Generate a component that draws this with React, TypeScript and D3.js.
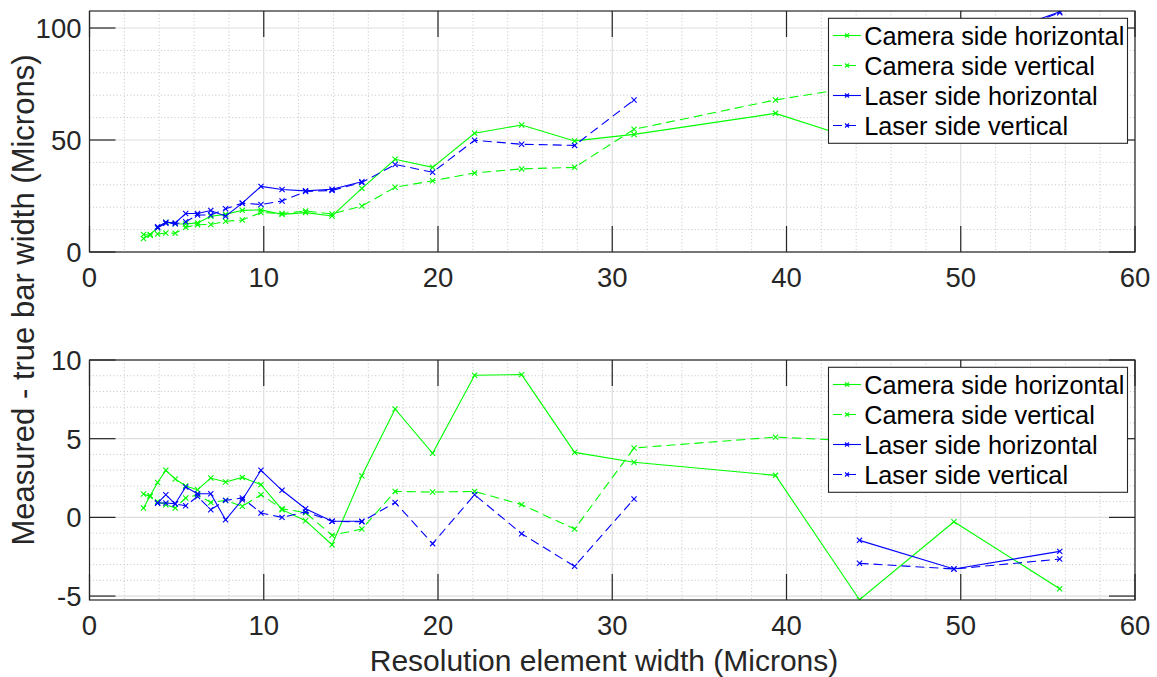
import React from 'react';
import * as d3 from 'd3';

// Resolution element width (microns) — USAF target elements
const resolutionWidth = [3.10, 3.48, 3.91, 4.38, 4.92, 5.52, 6.20, 6.96, 7.81, 8.77, 9.84, 11.05, 12.40, 13.92, 15.63, 17.54, 19.69, 22.10, 24.80, 27.84, 31.25, 39.37, 44.19, 49.61, 55.68];

// Top panel: measured bar width (microns)
const cameraHorizMeasured = [6.0, 7.8, 10.8, 13.2, 12.6, 12.5, 13.0, 16.0, 16.8, 18.6, 18.8, 16.8, 17.6, 16.1, 28.4, 41.4, 37.8, 53.0, 56.7, 49.6, 52.5, 61.9, 49.8, 69.3, 67.6];
const cameraVertMeasured = [7.8, 7.5, 8.0, 8.5, 8.4, 11.0, 12.2, 12.3, 13.7, 14.3, 17.6, 17.2, 18.3, 17.0, 20.5, 28.9, 31.8, 35.3, 37.1, 37.8, 54.8, 67.9, 73.9, null, null];
const laserHorizMeasured = [null, null, 11.3, 13.3, 13.0, 17.2, 17.2, 18.5, 16.0, 21.8, 29.3, 27.9, 27.3, 28.0, 31.4, null, null, null, null, null, null, null, 86, 90, 107.3];
const laserVertMeasured = [null, null, 10.8, 12.8, 12.6, 13.5, 16.5, 16.5, 19.3, 21.8, 21.2, 22.8, 27.0, 27.5, 31.0, 39.1, 35.6, 49.9, 48.1, 47.6, 67.9, null, 80, 90, 106.8];

// Bottom panel: measured - true bar width
const cameraHorizError = [0.59, 1.38, 2.22, 2.99, 2.44, 2.0, 1.76, 2.5, 2.25, 2.54, 2.08, 0.49, -0.21, -1.74, 2.65, 6.89, 4.07, 9.03, 9.07, 4.13, 3.5, 2.67, -5.23, -0.28, -4.53];
const cameraVertError = [1.48, 1.33, 1.0, 0.8, 0.6, 1.23, 1.44, 0.95, 1.08, 0.7, 1.44, 0.55, 0.3, -1.14, -0.74, 1.65, 1.61, 1.65, 0.81, -0.74, 4.41, 5.1, 4.85, null, null];
const laserHorizError = [null, null, 0.91, 0.91, 0.87, 1.93, 1.5, 1.5, -0.15, 1.12, 2.99, 1.72, 0.55, -0.25, -0.25, null, null, null, null, null, null, null, -1.46, -3.28, -2.16];
const laserVertError = [null, null, 0.91, 1.44, 0.85, 0.74, 1.33, 0.49, 1.08, 1.23, 0.28, 0.0, 0.35, -0.25, -0.28, 0.95, -1.67, 1.44, -1.04, -3.11, 1.17, null, -2.92, -3.28, -2.65];

const seriesNames = ['Camera side horizontal', 'Camera side vertical', 'Laser side horizontal', 'Laser side vertical'];
const seriesColors = ['#00ff00', '#00ff00', '#0000ff', '#0000ff'];
const seriesDashed = [false, true, false, true];

const xTicks = [0, 10, 20, 30, 40, 50, 60];
const topYTicks = [0, 50, 100];
const bottomYTicks = [-5, 0, 5, 10];

const W = 1157;
const H = 677;
const FONT = '"Liberation Sans", Arial, Helvetica, sans-serif';
const AX = '#262626';

type PanelProps = {
  id: string;
  top: number;
  bottom: number;
  yDomain: [number, number];
  yTicks: number[];
  yMinorStep: number;
  data: (number | null)[][];
};

const left = 89.5;
const right = 1135;
const xScale = d3.scaleLinear().domain([0, 60]).range([left, right]);

function marker(x: number, y: number, s = 2.6) {
  return `M${x - s},${y - s}L${x + s},${y + s}M${x - s},${y + s}L${x + s},${y - s}`;
}

function Panel({ id, top, bottom, yDomain, yTicks, yMinorStep, data }: PanelProps) {
  const yScale = d3.scaleLinear().domain(yDomain).range([bottom, top]);
  const xMinor = d3.range(0, 60.001, 2).filter((v) => Math.abs(v % 10) > 1e-6);
  const yMinor = d3
    .range(Math.ceil(yDomain[0] / yMinorStep) * yMinorStep, yDomain[1] + 1e-6, yMinorStep)
    .filter((v) => !yTicks.some((t) => Math.abs(t - v) < 1e-6));
  const tickLen = 26;
  const lineGen = d3
    .line<[number, number | null]>()
    .defined((d) => d[1] !== null)
    .x((d) => xScale(d[0]))
    .y((d) => yScale(d[1] as number));

  const legendX = right - 7.5 - 299;
  const legendY = top + 7.3;

  return (
    <g>
      <defs>
        <clipPath id={`clip-${id}`}>
          <rect x={left} y={top} width={right - left} height={bottom - top} />
        </clipPath>
      </defs>
      <rect x={left} y={top} width={right - left} height={bottom - top} fill="#fff" />
      {/* minor grid */}
      {xMinor.map((v) => (
        <line key={`xm${v}`} x1={xScale(v)} x2={xScale(v)} y1={top} y2={bottom} stroke="#c4c4c4" strokeWidth={1} strokeDasharray="1,2.4" />
      ))}
      {yMinor.map((v) => (
        <line key={`ym${v}`} x1={left} x2={right} y1={yScale(v)} y2={yScale(v)} stroke="#c4c4c4" strokeWidth={1} strokeDasharray="1,2.4" />
      ))}
      {/* major grid */}
      {xTicks.map((v) => (
        <line key={`xg${v}`} x1={xScale(v)} x2={xScale(v)} y1={top} y2={bottom} stroke="#dedede" strokeWidth={1.2} />
      ))}
      {yTicks.map((v) => (
        <line key={`yg${v}`} x1={left} x2={right} y1={yScale(v)} y2={yScale(v)} stroke="#dedede" strokeWidth={1.2} />
      ))}
      {/* data */}
      <g clipPath={`url(#clip-${id})`}>
        {data.map((vals, si) => {
          const pts: [number, number | null][] = resolutionWidth.map((x, i) => [x, vals[i]]);
          return (
            <g key={si}>
              <path
                d={lineGen(pts) || ''}
                fill="none"
                stroke={seriesColors[si]}
                strokeWidth={1.1}
                strokeDasharray={seriesDashed[si] ? '9,5' : undefined}
              />
              {pts
                .filter((p) => p[1] !== null)
                .map((p, k) => (
                  <path key={k} d={marker(xScale(p[0]), yScale(p[1] as number))} stroke={seriesColors[si]} strokeWidth={1.1} fill="none" />
                ))}
            </g>
          );
        })}
      </g>
      {/* ticks */}
      {xTicks.map((v) => (
        <g key={`xt${v}`}>
          <line x1={xScale(v)} x2={xScale(v)} y1={bottom} y2={bottom - tickLen} stroke={AX} strokeWidth={1.2} />
          <line x1={xScale(v)} x2={xScale(v)} y1={top} y2={top + tickLen} stroke={AX} strokeWidth={1.2} />
          <text x={xScale(v)} y={bottom + 35} textAnchor="middle" fontFamily={FONT} fontSize={27.5} fill={AX}>
            {v}
          </text>
        </g>
      ))}
      {yTicks.map((v) => (
        <g key={`yt${v}`}>
          <line x1={left} x2={left + tickLen} y1={yScale(v)} y2={yScale(v)} stroke={AX} strokeWidth={1.2} />
          <line x1={right} x2={right - tickLen} y1={yScale(v)} y2={yScale(v)} stroke={AX} strokeWidth={1.2} />
          <text x={81.5} y={yScale(v) + 9.9} textAnchor="end" fontFamily={FONT} fontSize={27.5} fill={AX}>
            {v}
          </text>
        </g>
      ))}
      {/* box */}
      <rect x={left} y={top} width={right - left} height={bottom - top} fill="none" stroke={AX} strokeWidth={1.2} />
      {/* legend */}
      <g>
        <rect x={legendX} y={legendY} width={299} height={125} fill="#fff" stroke={AX} strokeWidth={1.1} />
        {seriesNames.map((name, i) => {
          const base = legendY + 26.7 + i * 30;
          const ly = base - 9.5;
          return (
            <g key={name}>
              <line
                x1={legendX + 4.5}
                x2={legendX + 32.5}
                y1={ly}
                y2={ly}
                stroke={seriesColors[i]}
                strokeWidth={1.1}
                strokeDasharray={seriesDashed[i] ? '9,5' : undefined}
              />
              <path d={marker(legendX + 18.5, ly, 2)} stroke={seriesColors[i]} strokeWidth={1.1} fill="none" />
              <text x={legendX + 35.7} y={base} fontFamily={FONT} fontSize={25.3} fill="#000">
                {name}
              </text>
            </g>
          );
        })}
      </g>
    </g>
  );
}

export default function App() {
  return (
    <svg width={W} height={H} viewBox={`0 0 ${W} ${H}`} style={{ position: 'absolute', left: 0, top: 0, background: '#fff' }}>
      <rect x={0} y={0} width={W} height={H} fill="#fff" />
      <Panel
        id="top"
        top={11}
        bottom={252}
        yDomain={[0, 107.6]}
        yTicks={topYTicks}
        yMinorStep={10}
        data={[cameraHorizMeasured, cameraVertMeasured, laserHorizMeasured, laserVertMeasured]}
      />
      <Panel
        id="bottom"
        top={360}
        bottom={600}
        yDomain={[-5.25, 10]}
        yTicks={bottomYTicks}
        yMinorStep={1}
        data={[cameraHorizError, cameraVertError, laserHorizError, laserVertError]}
      />
      <text x={604} y={671} textAnchor="middle" fontFamily={FONT} fontSize={30} fill={AX}>
        Resolution element width (Microns)
      </text>
      <text
        transform="translate(33.5,300) rotate(-90)"
        textAnchor="middle"
        fontFamily={FONT}
        fontSize={31}
        fill={AX}
      >
        Measured - true bar width (Microns)
      </text>
    </svg>
  );
}
